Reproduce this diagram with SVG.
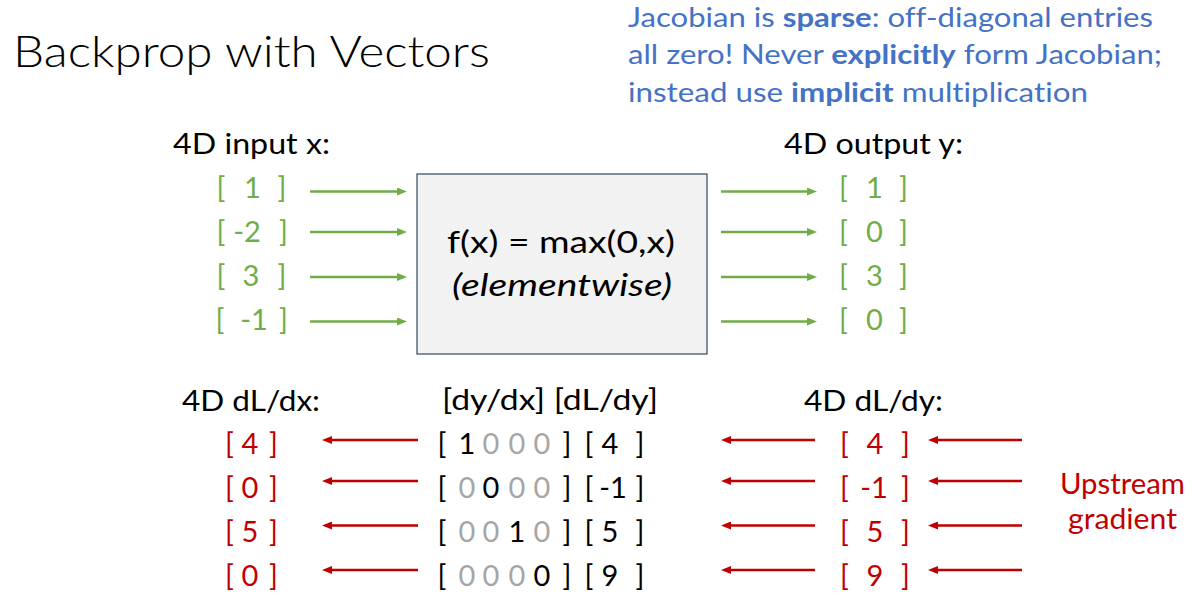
<svg xmlns="http://www.w3.org/2000/svg" width="1192" height="608" viewBox="0 0 1192 608">
<defs>
<style>
text{font-family:Lato,"Open Sans","Liberation Sans",sans-serif;font-variant-ligatures:none;}
.t{font-size:44px;font-weight:300;fill:#000;}
.blue{font-size:27px;fill:#4472C4;}
.b{font-weight:bold;}
.lbl{font-size:28px;fill:#000;}
.num{font-size:29px;text-anchor:middle;}
.g{fill:#70AD47;}
.r{fill:#C00000;}
.k{fill:#000;}
.gr{fill:#A6A6A6;}
.ga{stroke:#70AD47;stroke-width:2.5;fill:none;}
.ra{stroke:#C00000;stroke-width:2.5;fill:none;}
</style>
<marker id="ag" markerUnits="userSpaceOnUse" markerWidth="10" markerHeight="8" refX="1" refY="4" orient="auto"><path d="M0,0 L10,4 L0,8 z" fill="#70AD47"/></marker>
<marker id="ar" markerUnits="userSpaceOnUse" markerWidth="10" markerHeight="8" refX="1" refY="4" orient="auto"><path d="M0,0 L10,4 L0,8 z" fill="#C00000"/></marker>
</defs>
<rect width="1192" height="608" fill="#fff"/>
<g id="title"><text class="t" x="13" y="67" textLength="477" lengthAdjust="spacingAndGlyphs">Backprop with Vectors</text></g>
<g id="note">
<text class="blue" x="628" y="27" textLength="525" lengthAdjust="spacingAndGlyphs">Jacobian is <tspan class="b">sparse</tspan>: off-diagonal entries</text>
<text class="blue" x="628" y="64" textLength="534" lengthAdjust="spacingAndGlyphs">all zero! Never <tspan class="b">explicitly</tspan> form Jacobian;</text>
<text class="blue" x="628" y="102" textLength="460" lengthAdjust="spacingAndGlyphs">instead use <tspan class="b">implicit</tspan> multiplication</text>
</g>
<g id="input">
<text class="lbl" x="173" y="154" textLength="157" lengthAdjust="spacingAndGlyphs">4D input x:</text>
<text class="num g" x="221" y="198">[</text><text class="num g" x="252.5" y="198">1</text><text class="num g" x="282" y="198">]</text>
<text class="num g" x="221" y="242">[</text><text class="num g" x="247" y="242">-2</text><text class="num g" x="283.5" y="242">]</text>
<text class="num g" x="221" y="286">[</text><text class="num g" x="251" y="286">3</text><text class="num g" x="282" y="286">]</text>
<text class="num g" x="220" y="330">[</text><text class="num g" x="254" y="330">-1</text><text class="num g" x="283.5" y="330">]</text>
</g>
<g id="box">
<rect x="417" y="174" width="290" height="180" fill="#F2F2F2" stroke="#44546A" stroke-width="1.3"/>
<text class="lbl" x="561" y="253" text-anchor="middle" textLength="228" lengthAdjust="spacingAndGlyphs" style="font-size:30px">f(x) = max(0,x)</text>
<text class="lbl" x="562" y="296" text-anchor="middle" textLength="220" lengthAdjust="spacingAndGlyphs" style="font-size:30px;font-style:italic">(elementwise)</text>
</g>
<g id="output">
<text class="lbl" x="784" y="154" textLength="179" lengthAdjust="spacingAndGlyphs">4D output y:</text>
<text class="num g" x="843.5" y="198">[</text><text class="num g" x="874.5" y="198">1</text><text class="num g" x="903.5" y="198">]</text>
<text class="num g" x="843.5" y="242">[</text><text class="num g" x="874.5" y="242">0</text><text class="num g" x="903.5" y="242">]</text>
<text class="num g" x="843.5" y="286">[</text><text class="num g" x="874.5" y="286">3</text><text class="num g" x="903.5" y="286">]</text>
<text class="num g" x="843.5" y="330">[</text><text class="num g" x="874.5" y="330">0</text><text class="num g" x="903.5" y="330">]</text>
</g>
<g id="dLdx">
<text class="lbl" x="182" y="411" textLength="138" lengthAdjust="spacingAndGlyphs">4D dL/dx:</text>
<text class="num r" x="229.5" y="454">[</text><text class="num r" x="250" y="454">4</text><text class="num r" x="273.5" y="454">]</text>
<text class="num r" x="229.5" y="498">[</text><text class="num r" x="250" y="498">0</text><text class="num r" x="273.5" y="498">]</text>
<text class="num r" x="229.5" y="542">[</text><text class="num r" x="250" y="542">5</text><text class="num r" x="273.5" y="542">]</text>
<text class="num r" x="229.5" y="586">[</text><text class="num r" x="250" y="586">0</text><text class="num r" x="273.5" y="586">]</text>
</g>
<g id="jacobian">
<text class="lbl" x="442" y="410" textLength="216" lengthAdjust="spacingAndGlyphs">[dy/dx] [dL/dy]</text>
<text class="num k" x="442" y="454">[</text><text class="num k" x="467" y="454">1</text><text class="num gr" x="491" y="454">0</text><text class="num gr" x="517" y="454">0</text><text class="num gr" x="542" y="454">0</text><text class="num k" x="567" y="454">]</text><text class="num k" x="589" y="454">[</text><text class="num k" x="610" y="454">4</text><text class="num k" x="640" y="454">]</text>
<text class="num k" x="442" y="498">[</text><text class="num gr" x="467" y="498">0</text><text class="num k" x="491" y="498">0</text><text class="num gr" x="517" y="498">0</text><text class="num gr" x="542" y="498">0</text><text class="num k" x="567" y="498">]</text><text class="num k" x="589" y="498">[</text><text class="num k" x="613" y="498">-1</text><text class="num k" x="640" y="498">]</text>
<text class="num k" x="442" y="542">[</text><text class="num gr" x="467" y="542">0</text><text class="num gr" x="491" y="542">0</text><text class="num k" x="517" y="542">1</text><text class="num gr" x="542" y="542">0</text><text class="num k" x="567" y="542">]</text><text class="num k" x="589" y="542">[</text><text class="num k" x="610" y="542">5</text><text class="num k" x="640" y="542">]</text>
<text class="num k" x="442" y="586">[</text><text class="num gr" x="467" y="586">0</text><text class="num gr" x="491" y="586">0</text><text class="num gr" x="517" y="586">0</text><text class="num k" x="542" y="586">0</text><text class="num k" x="567" y="586">]</text><text class="num k" x="589" y="586">[</text><text class="num k" x="610" y="586">9</text><text class="num k" x="640" y="586">]</text>
</g>
<g id="dLdy">
<text class="lbl" x="804" y="411" textLength="139" lengthAdjust="spacingAndGlyphs">4D dL/dy:</text>
<text class="num r" x="844.5" y="454">[</text><text class="num r" x="875" y="454">4</text><text class="num r" x="905.5" y="454">]</text>
<text class="num r" x="844.5" y="498">[</text><text class="num r" x="874" y="498">-1</text><text class="num r" x="905.5" y="498">]</text>
<text class="num r" x="844.5" y="542">[</text><text class="num r" x="875" y="542">5</text><text class="num r" x="905.5" y="542">]</text>
<text class="num r" x="844.5" y="586">[</text><text class="num r" x="875" y="586">9</text><text class="num r" x="905.5" y="586">]</text>
</g>
<g id="upstream">
<text class="lbl r" x="1122.5" y="494" text-anchor="middle" textLength="125" lengthAdjust="spacingAndGlyphs">Upstream</text>
<text class="lbl r" x="1122.5" y="529" text-anchor="middle" textLength="109" lengthAdjust="spacingAndGlyphs">gradient</text>
</g>
<g id="connectors">
<line class="ga" x1="310" y1="191.5" x2="398" y2="191.5" marker-end="url(#ag)"/>
<line class="ga" x1="310" y1="232" x2="398" y2="232" marker-end="url(#ag)"/>
<line class="ga" x1="310" y1="277" x2="398" y2="277" marker-end="url(#ag)"/>
<line class="ga" x1="310" y1="321.5" x2="398" y2="321.5" marker-end="url(#ag)"/>
<line class="ga" x1="721" y1="191.5" x2="808" y2="191.5" marker-end="url(#ag)"/>
<line class="ga" x1="721" y1="232" x2="808" y2="232" marker-end="url(#ag)"/>
<line class="ga" x1="721" y1="277" x2="808" y2="277" marker-end="url(#ag)"/>
<line class="ga" x1="721" y1="321.5" x2="808" y2="321.5" marker-end="url(#ag)"/>
<line class="ra" x1="418" y1="440" x2="331" y2="440" marker-end="url(#ar)"/>
<line class="ra" x1="418" y1="481" x2="331" y2="481" marker-end="url(#ar)"/>
<line class="ra" x1="418" y1="525.5" x2="331" y2="525.5" marker-end="url(#ar)"/>
<line class="ra" x1="418" y1="570" x2="331" y2="570" marker-end="url(#ar)"/>
<line class="ra" x1="815" y1="440" x2="730" y2="440" marker-end="url(#ar)"/>
<line class="ra" x1="815" y1="481" x2="730" y2="481" marker-end="url(#ar)"/>
<line class="ra" x1="815" y1="525.5" x2="730" y2="525.5" marker-end="url(#ar)"/>
<line class="ra" x1="815" y1="570" x2="730" y2="570" marker-end="url(#ar)"/>
<line class="ra" x1="1022" y1="440" x2="937" y2="440" marker-end="url(#ar)"/>
<line class="ra" x1="1022" y1="481" x2="937" y2="481" marker-end="url(#ar)"/>
<line class="ra" x1="1022" y1="525.5" x2="937" y2="525.5" marker-end="url(#ar)"/>
<line class="ra" x1="1022" y1="570" x2="937" y2="570" marker-end="url(#ar)"/>
</g>
</svg>
